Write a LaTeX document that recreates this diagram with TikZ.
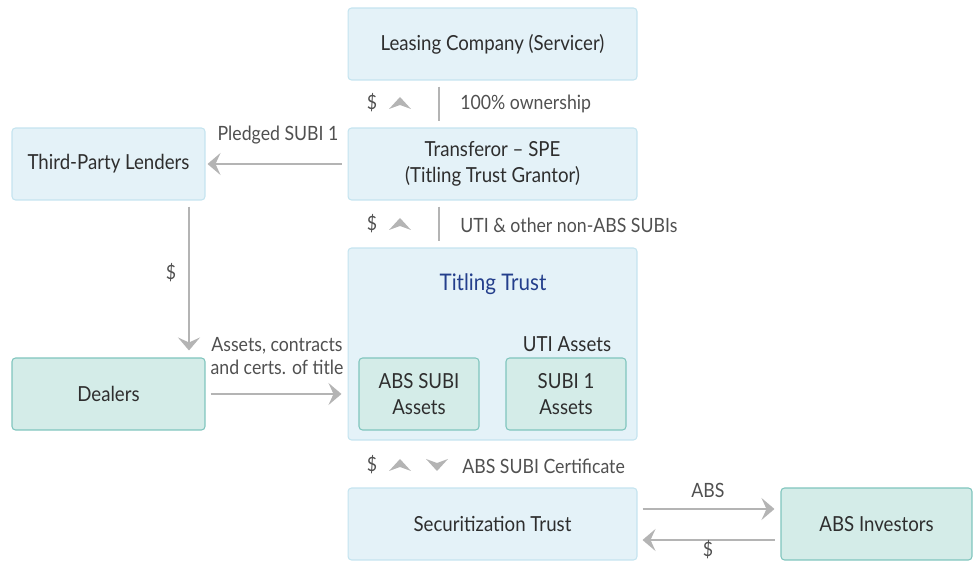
\documentclass[tikz,border=0pt]{standalone}
\usepackage{fontspec}
\setmainfont{Lato}[FakeStretch=0.9]
\usepackage{xcolor}
\usetikzlibrary{arrows.meta}
\definecolor{boxblue}{HTML}{E4F2F8}
\definecolor{lineblue}{HTML}{C4E4EF}
\definecolor{boxteal}{HTML}{D4ECE8}
\definecolor{lineteal}{HTML}{7FC5BD}
\definecolor{arrgray}{HTML}{B4B4B4}
\definecolor{txtgray}{HTML}{2E2E2E}
\definecolor{lblgray}{HTML}{505050}
\definecolor{trustblue}{HTML}{243F8C}
\tikzset{
  bluebox/.style={draw=lineblue, fill=boxblue, rounded corners=2pt, line width=0.6pt,
    text=txtgray, align=center, minimum height=1.44cm, inner sep=0pt},
  tealbox/.style={draw=lineteal, fill=boxteal, rounded corners=2pt, line width=0.6pt,
    text=txtgray, align=center, minimum height=1.44cm, inner sep=0pt},
  lbl/.style={text=lblgray, inner sep=0pt, font=\fontsize{11.2}{13.5}\selectfont},
  flow/.style={draw=arrgray, line width=1.1pt, -{Stealth[length=0.26cm, width=0.44cm, inset=0.1cm]}},
  sepline/.style={draw=arrgray, line width=1.1pt}
}
\newcommand{\chevup}[2]{\fill[arrgray] (#1,#2) ++(-11,6) -- ++(11,-12) -- ++(11,12) -- ++(-11,-4) -- cycle;}
\newcommand{\chevdown}[2]{\fill[arrgray] (#1,#2) ++(-11,-6) -- ++(11,12) -- ++(11,-12) -- ++(-11,4) -- cycle;}

\begin{document}
\begin{tikzpicture}[x=0.02cm, y=-0.02cm, font=\fontsize{11.8}{15}\selectfont]
	\useasboundingbox (0,0) rectangle (974,563);
	
	\node[bluebox, minimum width=5.78cm] (lease) at (492.5,44) {Leasing Company (Servicer)};
	\node[bluebox, minimum width=5.78cm] (trans) at (492.5,164) {Transferor -- SPE\\(Titling Trust Grantor)};
	\node[bluebox, minimum width=3.86cm] (lenders) at (108.5,164) {Third-Party Lenders};
	\node[bluebox, minimum width=5.78cm, minimum height=3.84cm] (ttrust) at (492.5,344) {};
	\node[tealbox, minimum width=2.4cm] (abssubi) at (419,394) {ABS SUBI\\Assets};
	\node[tealbox, minimum width=2.4cm] (subione) at (566,394) {SUBI 1\\Assets};
	\node[tealbox, minimum width=3.86cm] (dealers) at (108.5,394) {Dealers};
	\node[bluebox, minimum width=5.78cm] (sectrust) at (492.5,524) {Securitization Trust};
	\node[tealbox, minimum width=3.82cm] (investors) at (876.5,524) {ABS Investors};
	
	\node[text=trustblue, inner sep=0pt, font=\fontsize{13}{15}\selectfont] (ttitle) at (493,284) {Titling Trust};
	\node[text=txtgray, inner sep=0pt] (utilbl) at (567,344) {UTI Assets};
	
	% links down the middle
	\draw[sepline] ([xshift=-1.07cm, yshift=-0.12cm]lease.south) -- ([xshift=-1.07cm, yshift=0.12cm]trans.north);
	\draw[sepline] ([xshift=-1.07cm, yshift=-0.12cm]trans.south) -- ([xshift=-1.07cm, yshift=0.12cm]ttrust.north);
	
	\node[lbl] (d1) at (372,103) {\$};
	\chevup{400}{103}
	\node[lbl, anchor=west] (own) at (460,104) {100\% ownership};
	
	\node[lbl] (d2) at (372,224) {\$};
	\chevup{400}{224}
	\node[lbl, anchor=west] (uti) at (460,225) {UTI \& other non-ABS SUBIs};
	
	\node[lbl] (d3) at (372,465) {\$};
	\chevup{400}{465}
	\chevdown{437}{465}
	\node[lbl, anchor=west] (cert) at (462,466) {ABS SUBI Certificate};
	
	% arrows
	\draw[flow] ([xshift=-0.12cm]trans.west) -- ([xshift=0.04cm]lenders.east);
	\node[lbl] (pledge) at (278,135) {Pledged SUBI 1};
	
	\draw[flow] ([xshift=1.61cm, yshift=-0.12cm]lenders.south) -- ([xshift=1.61cm, yshift=0.14cm]dealers.north);
	\node[lbl] (d4) at (171,273) {\$};
	
	\draw[flow] ([xshift=0.1cm]dealers.east) -- ([xshift=-0.12cm]ttrust.west |- dealers.east);
	\node[lbl, align=center] (assets) at (277,356) {Assets, contracts\\and certs. of title};
	
	\draw[flow] ([xshift=0.1cm, yshift=0.3cm]sectrust.east) -- ([xshift=-0.12cm, yshift=0.3cm]investors.west);
	\node[lbl] (abs) at (708,490) {ABS};
	\draw[flow] ([xshift=-0.12cm, yshift=-0.32cm]investors.west) -- ([xshift=0.1cm, yshift=-0.32cm]sectrust.east);
	\node[lbl] (d5) at (708,550) {\$};
	
\end{tikzpicture}
\end{document}
